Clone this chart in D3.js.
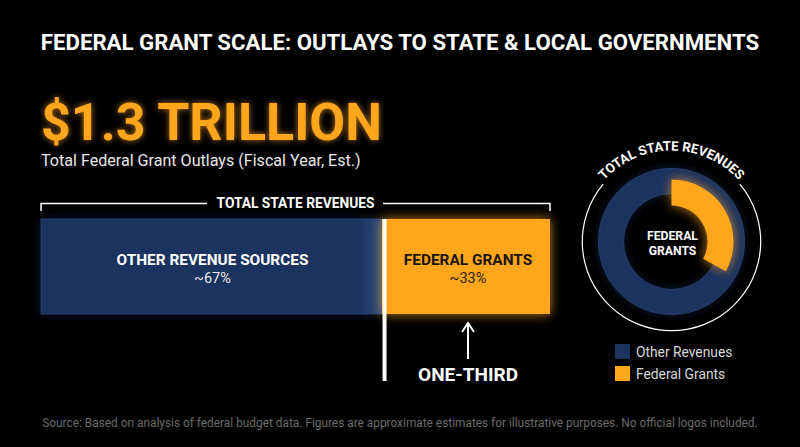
<!DOCTYPE html>
<html>
<head>
<meta charset="utf-8">
<script src="https://cdn.jsdelivr.net/npm/d3@7"></script>
<style>
  html, body { margin: 0; background: #000; }
  svg { display: block; font-family: Roboto, sans-serif; }
</style>
</head>
<body>
<div id="chart"></div>
<script>
const categories = ["OTHER REVENUE SOURCES", "FEDERAL GRANTS"];
const shares = [67, 33];
const shareLabels = ["~67%", "~33%"];
const donutShares = [33, 67];
const legendLabels = ["Other Revenues", "Federal Grants"];

const width = 800;
const height = 447;
const blue = "#1d335f";
const orange = "#ffa61c";

const svg = d3.select("#chart").append("svg")
    .attr("width", width)
    .attr("height", height)
    .attr("viewBox", [0, 0, width, height]);

svg.append("rect").attr("width", width).attr("height", height).attr("fill", "#000");

const defs = svg.append("defs");

function glow(id, blur, strength) {
  const f = defs.append("filter").attr("id", id)
      .attr("x", "-30%").attr("y", "-30%").attr("width", "160%").attr("height", "160%");
  f.append("feGaussianBlur").attr("in", "SourceGraphic").attr("stdDeviation", blur).attr("result", "b");
  f.append("feComponentTransfer").attr("in", "b").attr("result", "c")
    .append("feFuncA").attr("type", "linear").attr("slope", strength);
  const m = f.append("feMerge");
  m.append("feMergeNode").attr("in", "c");
  m.append("feMergeNode").attr("in", "SourceGraphic");
}
glow("glowText", 3, 0.7);
glow("glowBar", 6, 0.75);
glow("glowBlue", 5, 0.5);

const blueFade = defs.append("linearGradient").attr("id", "blueFade");
blueFade.append("stop").attr("offset", "0%").attr("stop-color", blue);
blueFade.append("stop").attr("offset", "93%").attr("stop-color", blue);
blueFade.append("stop").attr("offset", "100%").attr("stop-color", "#2a4a80");

// titel en grote waarde
svg.append("text")
    .attr("x", 400).attr("y", 50)
    .attr("text-anchor", "middle")
    .attr("fill", "#fff")
    .attr("font-size", 22.2)
    .attr("font-weight", 700)
    .text("FEDERAL GRANT SCALE: OUTLAYS TO STATE & LOCAL GOVERNMENTS");

svg.append("text")
    .attr("x", 41).attr("y", 140)
    .attr("fill", orange)
    .attr("font-size", 52)
    .attr("font-weight", 700)
    .attr("filter", "url(#glowText)")
    .text("$1.3 TRILLION");

svg.append("text")
    .attr("x", 41).attr("y", 166)
    .attr("fill", "#e8e8e8")
    .attr("font-size", 16.1)
    .text("Total Federal Grant Outlays (Fiscal Year, Est.)");

// balk
const x = d3.scaleLinear().domain([0, 100]).range([41, 550]);
const barTop = 219;
const barH = 95;
const stacked = d3.cumsum(shares);
const starts = shares.map((d, i) => stacked[i] - d);

const bar = svg.append("g");
bar.selectAll("rect")
  .data(shares)
  .join("rect")
    .attr("x", (d, i) => x(starts[i]))
    .attr("y", barTop)
    .attr("width", (d, i) => x(stacked[i]) - x(starts[i]))
    .attr("height", barH)
    .attr("fill", (d, i) => i === 0 ? "url(#blueFade)" : orange)
    .attr("stroke", (d, i) => i === 0 ? "#2b4578" : "none")
    .attr("stroke-width", 0.8)
    .attr("filter", (d, i) => i === 0 ? "url(#glowBlue)" : "url(#glowBar)");

const barText = svg.append("g").attr("text-anchor", "middle");
barText.selectAll(".cat")
  .data(categories)
  .join("text")
    .attr("class", "cat")
    .attr("x", (d, i) => (x(starts[i]) + x(stacked[i])) / 2 + (i === 1 ? 2 : 1))
    .attr("y", 265)
    .attr("font-size", 15.4)
    .attr("font-weight", 700)
    .attr("fill", (d, i) => i === 0 ? "#fff" : "#1a1408")
    .text(d => d);
barText.selectAll(".share")
  .data(shareLabels)
  .join("text")
    .attr("class", "share")
    .attr("x", (d, i) => (x(starts[i]) + x(stacked[i])) / 2 + (i === 1 ? 2 : 1))
    .attr("y", 283)
    .attr("font-size", 14.5)
    .attr("fill", (d, i) => i === 0 ? "#e8e8e8" : "#2a200c")
    .text(d => d);

// scheidingslijn
svg.append("rect")
    .attr("x", x(shares[0]) + 0.5)
    .attr("y", barTop)
    .attr("width", 4)
    .attr("height", 162)
    .attr("fill", "#fff");

// accolade boven de balk
const bracket = svg.append("g").attr("fill", "none").attr("stroke", "#fff").attr("stroke-width", 1.5);
bracket.append("path").attr("d", `M${x(0)},211 V203.5 H207`);
bracket.append("path").attr("d", `M${x(100)},211 V203.5 H383`);
svg.append("text")
    .attr("x", 295.5).attr("y", 208)
    .attr("text-anchor", "middle")
    .attr("fill", "#fff")
    .attr("font-size", 13.75)
    .attr("font-weight", 700)
    .text("TOTAL STATE REVENUES");

// pijl
const arrowX = (x(shares[0]) + x(100)) / 2 + 2;
svg.append("path")
    .attr("d", `M${arrowX},359 V323 M${arrowX - 6},332 L${arrowX},323 L${arrowX + 6},332`)
    .attr("fill", "none").attr("stroke", "#fff").attr("stroke-width", 2);
svg.append("text")
    .attr("x", arrowX).attr("y", 381)
    .attr("text-anchor", "middle")
    .attr("fill", "#fff")
    .attr("font-size", 19)
    .attr("font-weight", 700)
    .text("ONE-THIRD");

// donut
const donut = svg.append("g").attr("transform", "translate(671.5,241.5)");
const pie = d3.pie().sort(null)(donutShares);

donut.append("path")
    .attr("d", d3.arc().innerRadius(48).outerRadius(73).startAngle(0).endAngle(2 * Math.PI)())
    .attr("fill", blue)
    .attr("stroke", "#2b4578")
    .attr("stroke-width", 0.8)
    .attr("filter", "url(#glowBlue)");

donut.append("path")
    .attr("d", d3.arc().innerRadius(36).outerRadius(62)(pie[0]))
    .attr("fill", orange)
    .attr("filter", "url(#glowBar)");

const deg = Math.PI / 180;
donut.append("path")
    .attr("d", d3.arc().innerRadius(88.6).outerRadius(89.8).startAngle(50 * deg).endAngle(310 * deg)())
    .attr("fill", "#fff");

defs.append("path")
    .attr("id", "ringText")
    .attr("d", "M-91,0 A91,91 0 0 1 91,0");
donut.append("text")
    .attr("fill", "#fff")
    .attr("font-size", 13.2)
    .attr("font-weight", 700)
    .attr("text-anchor", "middle")
    .append("textPath")
    .attr("href", "#ringText")
    .attr("startOffset", "50%")
    .text("TOTAL STATE REVENUES");

donut.append("g")
    .attr("text-anchor", "middle")
    .attr("fill", "#fff")
    .attr("font-size", 12.2)
    .attr("font-weight", 700)
    .selectAll("text")
    .data(["FEDERAL", "GRANTS"])
    .join("text")
    .attr("x", 1)
    .attr("y", (d, i) => -2 + i * 15)
    .text(d => d);

// legenda
const legend = svg.append("g").selectAll("g")
  .data(legendLabels)
  .join("g")
    .attr("transform", (d, i) => `translate(615,${344 + i * 22})`);
legend.append("rect")
    .attr("width", 15).attr("height", 15)
    .attr("fill", (d, i) => i === 0 ? blue : orange);
legend.append("text")
    .attr("x", 21).attr("y", 12.5)
    .attr("fill", "#d8d8d8")
    .attr("font-size", 13.8)
    .text(d => d);

// bron
svg.append("text")
    .attr("x", 400).attr("y", 427)
    .attr("text-anchor", "middle")
    .attr("fill", "#6b6b6b")
    .attr("font-size", 11.87)
    .text("Source: Based on analysis of federal budget data. Figures are approximate estimates for illustrative purposes. No official logos included.");
</script>
</body>
</html>
